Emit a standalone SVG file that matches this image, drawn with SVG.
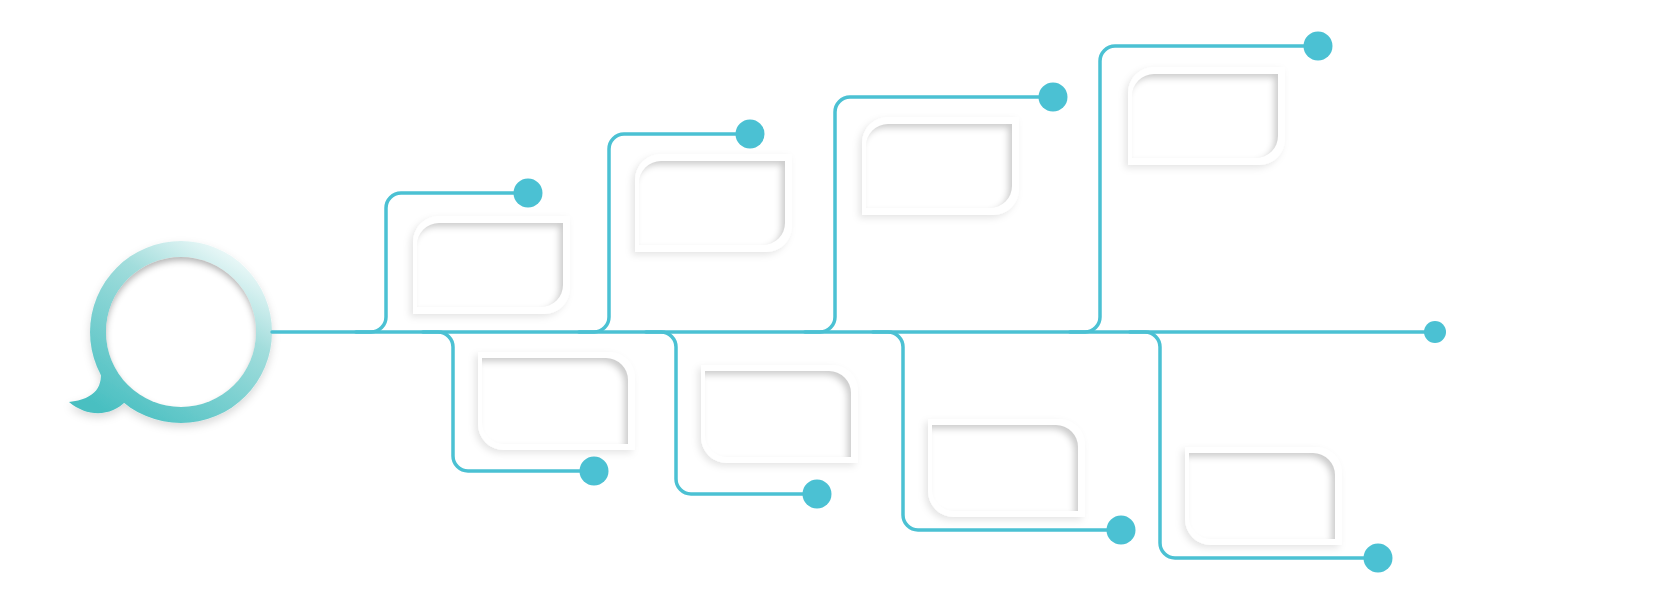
<svg xmlns="http://www.w3.org/2000/svg" width="1672" height="605" viewBox="0 0 1672 605">
<defs>
<linearGradient id="ringGrad" gradientUnits="userSpaceOnUse" x1="240" y1="245" x2="125" y2="425">
<stop offset="0" stop-color="#f8fdfd"/>
<stop offset="0.35" stop-color="#a2dddc"/>
<stop offset="1" stop-color="#48bfc1"/>
</linearGradient>
<filter id="drop" x="-20%" y="-20%" width="140%" height="150%">
<feDropShadow dx="-3" dy="3" stdDeviation="3.5" flood-color="#000" flood-opacity="0.1"/>
</filter>
<filter id="ringShadow" x="-20%" y="-20%" width="140%" height="150%">
<feDropShadow dx="0" dy="4" stdDeviation="4" flood-color="#000" flood-opacity="0.15"/>
</filter>
<filter id="inset" x="-20%" y="-20%" width="140%" height="140%">
<feComponentTransfer in="SourceAlpha" result="inv"><feFuncA type="table" tableValues="1 0"/></feComponentTransfer>
<feOffset in="inv" dx="-4" dy="4" result="off"/>
<feGaussianBlur in="off" stdDeviation="3" result="blur"/>
<feFlood flood-color="#cdcdcd"/>
<feComposite in2="blur" operator="in" result="col"/>
<feComposite in="col" in2="SourceAlpha" operator="in" result="shadow"/>
<feMerge><feMergeNode in="SourceGraphic"/><feMergeNode in="shadow"/></feMerge>
</filter>
<filter id="insetTop" x="-20%" y="-20%" width="140%" height="140%">
<feComponentTransfer in="SourceAlpha" result="inv"><feFuncA type="table" tableValues="1 0"/></feComponentTransfer>
<feOffset in="inv" dx="0" dy="4" result="off"/>
<feGaussianBlur in="off" stdDeviation="3" result="blur"/>
<feFlood flood-color="#b5b5b5"/>
<feComposite in2="blur" operator="in" result="col"/>
<feComposite in="col" in2="SourceAlpha" operator="in" result="shadow"/>
<feMerge><feMergeNode in="SourceGraphic"/><feMergeNode in="shadow"/></feMerge>
</filter>
</defs>
<style>
.line{fill:none;stroke:#4bc1d3;stroke-width:3.5;stroke-linecap:round}
.dot{fill:#4bc1d3}
.outer{fill:#fff;filter:url(#drop)}
.inner{fill:#fff;filter:url(#inset)}
</style>
<rect width="1672" height="605" fill="#fff"/>

<g id="hub">
<g filter="url(#ringShadow)">
<path d="M100 366 C104 386 96 399 69 402 C88 418 112 416 126 401 Z" fill="url(#ringGrad)"/>
<circle cx="181" cy="332" r="91" fill="url(#ringGrad)"/>
</g>
<circle cx="181" cy="332" r="75" fill="#fff" filter="url(#insetTop)"/>
</g>

<g id="connectors">
<path class="line" d="M272 332 H1435"/>
<path class="line" d="M356 332 H371 A15 15 0 0 0 386 317 V208 A15 15 0 0 1 401 193 H528"/>
<path class="line" d="M579 332 H594 A15 15 0 0 0 609 317 V149 A15 15 0 0 1 624 134 H750"/>
<path class="line" d="M805 332 H820 A15 15 0 0 0 835 317 V112 A15 15 0 0 1 850 97 H1053"/>
<path class="line" d="M1070 332 H1085 A15 15 0 0 0 1100 317 V61 A15 15 0 0 1 1115 46 H1318"/>
<path class="line" d="M423 332 H438 A15 15 0 0 1 453 347 V456 A15 15 0 0 0 468 471 H594"/>
<path class="line" d="M646 332 H661 A15 15 0 0 1 676 347 V479 A15 15 0 0 0 691 494 H817"/>
<path class="line" d="M873 332 H888 A15 15 0 0 1 903 347 V515 A15 15 0 0 0 918 530 H1121"/>
<path class="line" d="M1130 332 H1145 A15 15 0 0 1 1160 347 V543 A15 15 0 0 0 1175 558 H1378"/>
<circle class="dot" cx="1435" cy="332" r="11"/>
</g>

<g id="dot-u1"><circle class="dot" cx="528" cy="193" r="14.5"/></g>
<g id="dot-u2"><circle class="dot" cx="750" cy="134" r="14.5"/></g>
<g id="dot-u3"><circle class="dot" cx="1053" cy="97" r="14.5"/></g>
<g id="dot-u4"><circle class="dot" cx="1318" cy="46" r="14.5"/></g>
<g id="dot-l1"><circle class="dot" cx="594" cy="471" r="14.5"/></g>
<g id="dot-l2"><circle class="dot" cx="817" cy="494" r="14.5"/></g>
<g id="dot-l3"><circle class="dot" cx="1121" cy="530" r="14.5"/></g>
<g id="dot-l4"><circle class="dot" cx="1378" cy="558" r="14.5"/></g>

<g id="card-u1" transform="translate(413,216)">
<path class="outer" d="M26 0 H157 V72 A26 26 0 0 1 131 98 H0 V26 A26 26 0 0 1 26 0 Z"/>
<path class="inner" d="M26 7 H150 V69 A22 22 0 0 1 128 91 H4 V29 A22 22 0 0 1 26 7 Z"/>
</g>
<g id="card-u2" transform="translate(635,154)">
<path class="outer" d="M26 0 H157 V72 A26 26 0 0 1 131 98 H0 V26 A26 26 0 0 1 26 0 Z"/>
<path class="inner" d="M26 7 H150 V69 A22 22 0 0 1 128 91 H4 V29 A22 22 0 0 1 26 7 Z"/>
</g>
<g id="card-u3" transform="translate(862,117)">
<path class="outer" d="M26 0 H157 V72 A26 26 0 0 1 131 98 H0 V26 A26 26 0 0 1 26 0 Z"/>
<path class="inner" d="M26 7 H150 V69 A22 22 0 0 1 128 91 H4 V29 A22 22 0 0 1 26 7 Z"/>
</g>
<g id="card-u4" transform="translate(1128,67)">
<path class="outer" d="M26 0 H157 V72 A26 26 0 0 1 131 98 H0 V26 A26 26 0 0 1 26 0 Z"/>
<path class="inner" d="M26 7 H150 V69 A22 22 0 0 1 128 91 H4 V29 A22 22 0 0 1 26 7 Z"/>
</g>

<g id="card-l1" transform="translate(478,352)">
<path class="outer" d="M0 0 H131 A26 26 0 0 1 157 26 V98 H26 A26 26 0 0 1 0 72 Z"/>
<path class="inner" d="M4 6 H128 A22 22 0 0 1 150 28 V92 H26 A22 22 0 0 1 4 70 Z"/>
</g>
<g id="card-l2" transform="translate(701,365)">
<path class="outer" d="M0 0 H131 A26 26 0 0 1 157 26 V98 H26 A26 26 0 0 1 0 72 Z"/>
<path class="inner" d="M4 6 H128 A22 22 0 0 1 150 28 V92 H26 A22 22 0 0 1 4 70 Z"/>
</g>
<g id="card-l3" transform="translate(928,419)">
<path class="outer" d="M0 0 H131 A26 26 0 0 1 157 26 V98 H26 A26 26 0 0 1 0 72 Z"/>
<path class="inner" d="M4 6 H128 A22 22 0 0 1 150 28 V92 H26 A22 22 0 0 1 4 70 Z"/>
</g>
<g id="card-l4" transform="translate(1185,447)">
<path class="outer" d="M0 0 H131 A26 26 0 0 1 157 26 V98 H26 A26 26 0 0 1 0 72 Z"/>
<path class="inner" d="M4 6 H128 A22 22 0 0 1 150 28 V92 H26 A22 22 0 0 1 4 70 Z"/>
</g>
</svg>
